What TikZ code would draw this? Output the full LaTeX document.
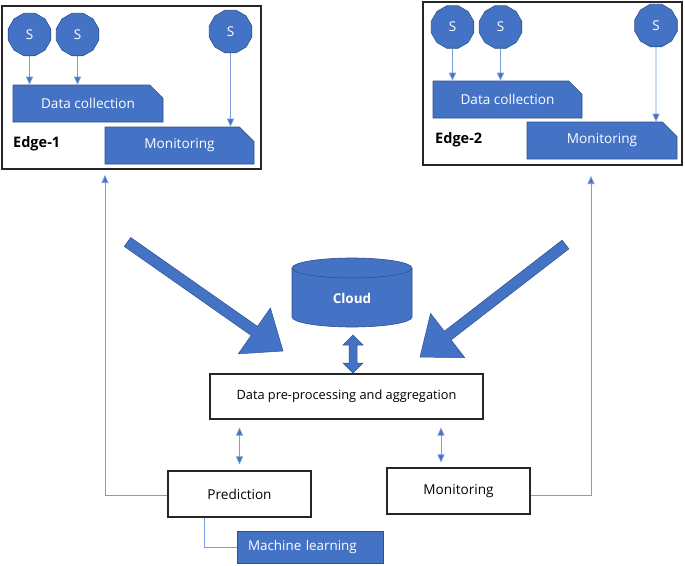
\documentclass[tikz,border=0pt]{standalone}
\usepackage{fontspec}
\setmainfont{Open Sans}
\usetikzlibrary{shapes.geometric,shapes.misc,arrows.meta,calc}
\definecolor{obl}{HTML}{4472C4}
\definecolor{obd}{HTML}{2F528F}
\definecolor{lbl}{HTML}{7A9CDA}
\definecolor{frame}{HTML}{262626}
\tikzset{
  edgebox/.style={draw=frame, line width=1.3pt, rectangle, inner sep=0pt},
  sensor/.style={regular polygon, regular polygon sides=12, minimum size=44pt, inner sep=0pt,
     fill=obl, draw=obd, line width=0.6pt, text=white, font=\fontsize{13.5}{15}\selectfont},
  bluebox/.style={chamfered rectangle, chamfered rectangle corners=north east,
     chamfered rectangle xsep=8pt, chamfered rectangle ysep=8pt, inner sep=0pt,
     fill=obl, draw=obd, line width=0.6pt, text=white, font=\fontsize{13.6}{15}\selectfont},
  whitebox/.style={rectangle, draw=frame, line width=1.1pt, fill=white, inner sep=0pt,
     font=\fontsize{13.6}{15}\selectfont},
  thinarrow/.style={draw=lbl, line width=0.7pt, -{Triangle[width=7pt,length=8pt,fill=obl]}},
  dblarrow/.style={draw=lbl, line width=0.7pt, {Triangle[width=7pt,length=8pt,fill=obl]}-{Triangle[width=7pt,length=8pt,fill=obl]}},
  plainline/.style={draw=lbl, line width=0.7pt},
  bigfill/.style={fill=obl, draw=obd, line width=0.5pt, line join=miter},
  edgelabel/.style={font=\bfseries\fontsize{14.5}{16}\selectfont, anchor=west, inner sep=0pt},
}
\newcommand{\blockarr}[2]{%
  \path[bigfill] ($(#1)!5.5pt!90:(#2)$) -- ($(#2)!35pt!(#1)!5.5pt!90:(#2)$)
    -- ($(#2)!35pt!(#1)!28pt!90:(#2)$) -- (#2)
    -- ($(#2)!35pt!(#1)!28pt!-90:(#2)$) -- ($(#2)!35pt!(#1)!5.5pt!-90:(#2)$)
    -- ($(#1)!5.5pt!-90:(#2)$) -- cycle;}
\begin{document}
\begin{tikzpicture}[x=1pt,y=-1pt]
\useasboundingbox[fill=white] (0,0) rectangle (685,565);
% Edge-1
\node[edgebox, minimum width=259pt, minimum height=163pt] (edge1) at (131.5,87.5) {};
\node[sensor] (s11) at (29.5,34.5) {S};
\node[sensor] (s12) at (77.5,34.5) {S};
\node[sensor] (s13) at (230.5,31.5) {S};
\node[bluebox, minimum width=150pt, minimum height=37pt] (dc1) at (88,103.5) {Data collection};
\node[bluebox, minimum width=149pt, minimum height=37pt] (mon1) at (179.5,145.5) {Monitoring};
\node[edgelabel] (e1lab) at (13,144) {Edge-1};
\draw[thinarrow] (s11) -- (s11 |- dc1.north);
\draw[thinarrow] (s12) -- (s12 |- dc1.north);
\draw[thinarrow] (s13) -- (s13 |- mon1.north);
% Edge-2
\node[edgebox, minimum width=259pt, minimum height=163pt] (edge2) at (552.5,83.5) {};
\node[sensor] (s21) at (452.5,27) {S};
\node[sensor] (s22) at (500.5,27) {S};
\node[sensor] (s23) at (656,25.5) {S};
\node[bluebox, minimum width=149pt, minimum height=37pt] (dc2) at (507.5,99.5) {Data collection};
\node[bluebox, minimum width=150pt, minimum height=37pt] (mon2) at (602,140.5) {Monitoring};
\node[edgelabel] (e2lab) at (435,140) {Edge-2};
\draw[thinarrow] (s21) -- (s21 |- dc2.north);
\draw[thinarrow] (s22) -- (s22 |- dc2.north);
\draw[thinarrow] (s23) -- (s23 |- mon2.north);
% Cloud cylinder
\path[fill=obl, draw=obd, line width=0.6pt] (292,268) -- (292,317)
  arc[start angle=180, end angle=360, x radius=60pt, y radius=10pt] -- (412,268)
  arc[start angle=0, end angle=180, x radius=60pt, y radius=10pt] -- cycle;
\draw[obd, line width=0.6pt] (292,268) arc[start angle=180, end angle=360, x radius=60pt, y radius=10pt];
\node[text=white, font=\bfseries\fontsize{13.5}{15}\selectfont] (cloud) at (352,298) {Cloud};
% big arrows
\coordinate (a1t) at (127.5,242);
\coordinate (a1h) at (283,351);
\coordinate (a2t) at (565.5,244.5);
\coordinate (a2h) at (420,357);
\blockarr{a1t}{a1h}
\blockarr{a2t}{a2h}
% processing
\node[whitebox, minimum width=273pt, minimum height=45pt, font=\fontsize{12.8}{15}\selectfont] (prep) at (346.5,396.5) {Data pre-processing and aggregation};
% double block arrow cloud <-> prep
\path[bigfill] (353,335) -- (363,345) -- (357,345) -- (357,363) -- (363,363) -- (353,373)
  -- (343,363) -- (349,363) -- (349,345) -- (343,345) -- cycle;
% bottom boxes
\node[whitebox, minimum width=143pt, minimum height=46pt] (pred) at (239.5,494) {Prediction};
\node[whitebox, minimum width=143pt, minimum height=46pt] (mon) at (458.5,491) {Monitoring};
\node[rectangle, fill=obl, draw=obd, line width=0.6pt, text=white, inner xsep=11pt, inner ysep=0pt,
  text width=124pt, align=left, minimum height=32pt, font=\fontsize{13.4}{15}\selectfont] (ml) at (310,547) {Machine learning};
\draw[dblarrow, shorten <=6pt, shorten >=8pt] (pred.north) -- (pred.north |- prep.south);
\coordinate (mtop) at ($(mon.north)+(-17.5,0)$);
\draw[dblarrow, shorten <=5pt, shorten >=8pt] (mtop) -- (mtop |- prep.south);
\coordinate (fb1) at (105,175);
\coordinate (fb2) at (591,176);
\draw[thinarrow] ($(pred.west)+(0,1)$) -| (fb1);
\draw[thinarrow] ($(mon.east)+(0,4)$) -| (fb2);
\draw[plainline] ($(pred.south west)+(37,0)$) |- (ml.west);
\end{tikzpicture}
\end{document}
